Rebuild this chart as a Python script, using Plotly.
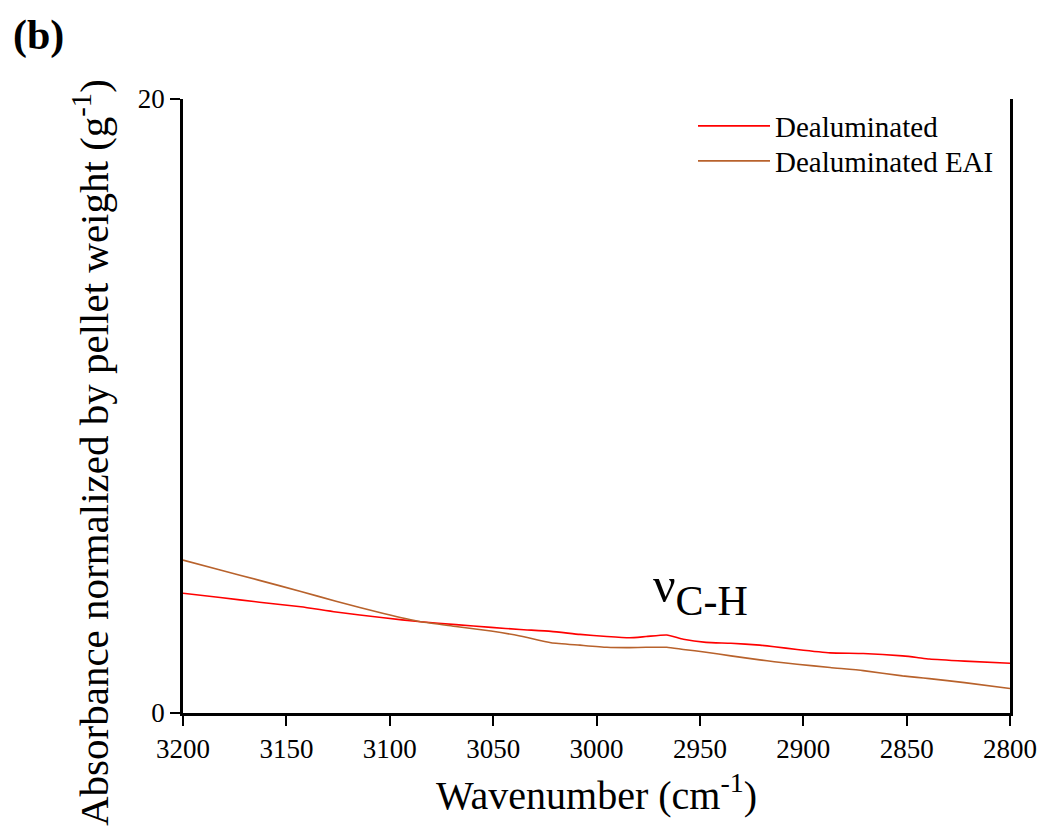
import plotly.graph_objects as go

wavenumber = [3200, 3182, 3163, 3143, 3126, 3103, 3085, 3068, 3051, 3037, 3022, 3008,
              2995, 2984, 2976, 2966, 2958, 2947, 2935, 2921, 2914, 2903, 2887, 2871,
              2852, 2845, 2839, 2822, 2800]
dealuminated = [3.90, 3.76, 3.61, 3.46, 3.29, 3.10, 2.97, 2.88, 2.79, 2.72, 2.66, 2.56,
                2.49, 2.45, 2.49, 2.54, 2.40, 2.30, 2.27, 2.21, 2.16, 2.07, 1.96, 1.94,
                1.86, 1.81, 1.76, 1.69, 1.62]
dealuminated_eai = [4.98, 4.66, 4.32, 3.96, 3.64, 3.24, 2.97, 2.82, 2.67, 2.51, 2.29, 2.21,
                    2.14, 2.13, 2.14, 2.14, 2.07, 1.98, 1.86, 1.73, 1.67, 1.59, 1.48, 1.38,
                    1.21, 1.16, 1.12, 0.99, 0.80]
x_ticks = [3200, 3150, 3100, 3050, 3000, 2950, 2900, 2850, 2800]
y_ticks = [0, 20]

FONT = "Liberation Serif"

# plot area in pixels
L, R, T, B = 183, 1010, 99, 713
W, H = 1042, 831

def px(x):
    return (x - L) / (R - L)

def py(y):
    return (B - y) / (B - T)

fig = go.Figure()
fig.add_trace(go.Scatter(x=wavenumber, y=dealuminated, mode="lines", name="Dealuminated",
                         legend="legend",
                         line=dict(color="#ff0000", width=1.6, shape="spline", smoothing=0.5)))
fig.add_trace(go.Scatter(x=wavenumber, y=dealuminated_eai, mode="lines", name="Dealuminated EAI",
                         legend="legend2",
                         line=dict(color="#b8622c", width=1.6, shape="spline", smoothing=0.5)))

leg_common = dict(xanchor="left", yanchor="middle", bgcolor="rgba(0,0,0,0)",
                  font=dict(size=29, family=FONT), itemwidth=72)

fig.update_layout(
    width=W, height=H,
    margin=dict(l=L, r=W - R, t=T, b=H - B, autoexpand=False),
    paper_bgcolor="white", plot_bgcolor="white",
    font=dict(family=FONT, color="black", size=26),
    showlegend=True,
    legend=dict(x=px(693), y=py(126), **leg_common),
    legend2=dict(x=px(693), y=py(161), **leg_common),
    xaxis=dict(range=[3200, 2800], tickvals=x_ticks, ticks="outside", ticklen=10,
               tickwidth=2, tickcolor="black", showline=True, linecolor="black",
               linewidth=2.5, showgrid=False, zeroline=False, mirror=False,
               tickfont=dict(size=27, family=FONT),
               title=dict(text="Wavenumber (cm<sup>-1</sup>)", font=dict(size=40, family=FONT),
                          standoff=18)),
    yaxis=dict(range=[0, 20], tickvals=y_ticks, ticks="outside", ticklen=10,
               tickwidth=2, tickcolor="black", showline=True, linecolor="black",
               linewidth=2.5, showgrid=False, zeroline=False, mirror=True,
               tickfont=dict(size=27, family=FONT)),
)

fig.add_annotation(text="Absorbance normalized by pellet weight (g<sup>-1</sup>)",
                   xref="paper", yref="paper", x=px(91), y=py(453),
                   xanchor="center", yanchor="middle", textangle=-90, showarrow=False,
                   font=dict(size=41, family=FONT))
fig.add_annotation(text="<b>(b)</b>", xref="paper", yref="paper", x=px(11), y=py(10),
                   xanchor="left", yanchor="top", showarrow=False,
                   font=dict(size=42, family=FONT))
fig.add_annotation(text="<span style='font-size:50px'>ν</span><sub>C-H</sub>",
                   xref="x", yref="y", x=2949.5, y=4.0,
                   xanchor="center", yanchor="middle", showarrow=False,
                   font=dict(size=60, family=FONT))

fig.write_html("out.html")
